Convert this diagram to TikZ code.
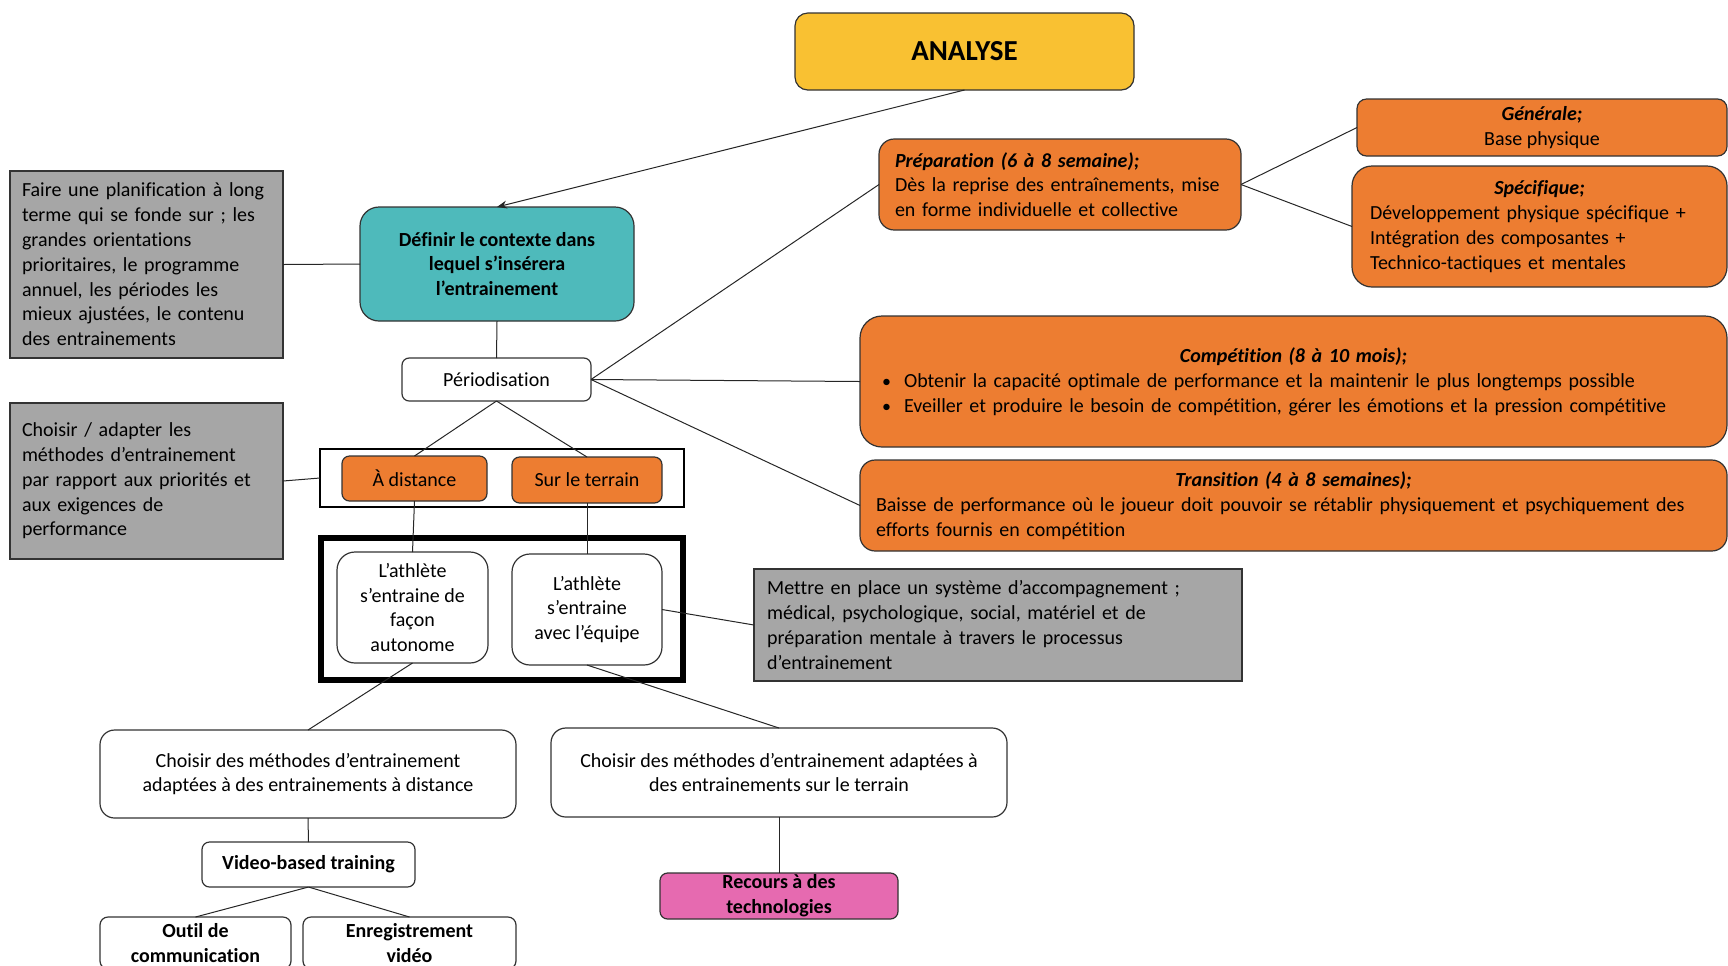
\documentclass[tikz,border=0pt]{standalone}
\usepackage{fontspec}
\setmainfont{Carlito}[Ligatures=CommonOff]
\usetikzlibrary{arrows.meta}

\definecolor{gold}{RGB}{249,193,50}
\definecolor{teal}{RGB}{78,186,187}
\definecolor{orng}{RGB}{237,125,49}
\definecolor{grey}{RGB}{166,166,166}
\definecolor{pink}{RGB}{230,106,176}

\begin{document}
\begin{tikzpicture}[x=0.5pt,y=-0.5pt,
  font=\fontsize{10}{12.4}\selectfont,
  box/.style={draw=black!80, line width=0.6pt, inner ysep=0pt, outer sep=0pt},
  whitebox/.style={box, fill=white, align=center, inner xsep=2pt},
  orangebox/.style={box, fill=orng},
  greybox/.style={box, fill=grey, align=left, inner xsep=6pt},
  frame/.style={draw=black, fill=none, inner sep=0pt, outer sep=0pt},
  conn/.style={draw=black!85, line width=0.5pt},
  boldtext/.style={font=\fontsize{10}{12.4}\selectfont\bfseries}
]
\useasboundingbox (0,0) rectangle (1728,965);

% ---- top of the map ----
\node[box, fill=gold, rounded corners=6.4pt, minimum width=169.5pt, minimum height=38.5pt,
      font=\fontsize{14.5}{17}\selectfont\bfseries] (analyse) at (964.5,51.5) {ANALYSE};

\node[box, fill=teal, rounded corners=9.5pt, minimum width=137pt, minimum height=57pt,
      align=center, boldtext] (definir) at (497,264)
  {Définir le contexte dans\\lequel s’insérera\\l’entrainement};

\node[greybox, minimum width=136.5pt, minimum height=93.5pt, text width=124.5pt] (faire) at (146.5,264.5)
  {Faire une planification à long\\terme qui se fonde sur ; les\\grandes orientations\\prioritaires, le programme\\annuel, les périodes les\\mieux ajustées, le contenu\\des entrainements};

\node[whitebox, rounded corners=3.6pt, minimum width=94.5pt, minimum height=21.5pt] (period) at (496.5,379.5) {Périodisation};

\node[greybox, minimum width=136.5pt, minimum height=78pt, text width=124.5pt] (choisir) at (146.5,481)
  {Choisir / adapter les\\méthodes d’entrainement\\par rapport aux priorités et\\aux exigences de\\performance};

% ---- training modes ----
\node[frame, line width=1.2pt, minimum width=182pt, minimum height=29pt] (modes) at (502,478) {};
\node[orangebox, rounded corners=3.75pt, minimum width=72.5pt, minimum height=22.5pt] (dist) at (414.5,478.5) {À distance};
\node[orangebox, rounded corners=3.8pt, minimum width=75pt, minimum height=23pt] (terr) at (587,480) {Sur le terrain};

\node[frame, line width=3pt, minimum width=181pt, minimum height=71pt] (athletes) at (502,609) {};
\node[whitebox, rounded corners=9pt, minimum width=75.5pt, minimum height=55.5pt] (auto) at (412.5,607.5)
  {L’athlète\\s’entraine de\\façon\\autonome};
\node[whitebox, rounded corners=9pt, minimum width=75pt, minimum height=55.5pt] (equipe) at (587,609.5)
  {L’athlète\\s’entraine\\avec l’équipe};

\node[greybox, inner xsep=6.6pt, minimum width=244pt, minimum height=56pt, text width=230.8pt] (mettre) at (998,625)
  {Mettre en place un système d’accompagnement ;\\médical, psychologique, social, matériel et de\\préparation mentale à travers le processus\\d’entrainement};

% ---- periods ----
\node[orangebox, rounded corners=7.6pt, align=left, inner xsep=8pt, minimum width=181pt, minimum height=45.5pt, text width=165pt] (prep) at (1060,184.5)
  {{\bfseries\itshape Préparation (6 à 8 semaine);}\\Dès la reprise des entraînements, mise\\en forme individuelle et collective};

\node[orangebox, rounded corners=4.75pt, align=center, minimum width=185pt, minimum height=28.5pt] (gen) at (1542,127.5)
  {{\bfseries\itshape Générale;}\\Base physique};

\node[orangebox, rounded corners=10pt, align=left, inner xsep=9pt, minimum width=187.5pt, minimum height=60.5pt, text width=169.5pt] (spec) at (1539.5,226.5)
  {{\centering\bfseries\itshape Spécifique;\par}Développement physique spécifique +\\Intégration des composantes +\\Technico-tactiques et mentales};

\node[orangebox, rounded corners=11pt, align=left, inner xsep=11pt, minimum width=433.5pt, minimum height=65.5pt, text width=411.5pt] (compet) at (1293.5,381.5)
  {{\centering\bfseries\itshape Compétition (8 à 10 mois);\par}%
   \makebox[11pt][l]{\small\textbullet}Obtenir la capacité optimale de performance et la maintenir le plus longtemps possible\\
   \makebox[11pt][l]{\small\textbullet}Eveiller et produire le besoin de compétition, gérer les émotions et la pression compétitive};

\node[orangebox, rounded corners=7.6pt, align=left, inner xsep=8pt, minimum width=433.5pt, minimum height=45.5pt, text width=417.5pt] (trans) at (1293.5,505.5)
  {{\centering\bfseries\itshape Transition (4 à 8 semaines);\par}Baisse de performance où le joueur doit pouvoir se rétablir physiquement et psychiquement des\\efforts fournis en compétition};

% ---- methods ----
\node[whitebox, rounded corners=7.3pt, minimum width=208pt, minimum height=44pt] (cdist) at (308,774)
  {Choisir des méthodes d’entrainement\\adaptées à des entrainements à distance};
\node[whitebox, rounded corners=7.4pt, minimum width=228pt, minimum height=44.5pt] (cterr) at (779,772.5)
  {Choisir des méthodes d’entrainement adaptées à\\des entrainements sur le terrain};

\node[whitebox, rounded corners=3.75pt, minimum width=106.5pt, minimum height=22.5pt,
      boldtext] (video) at (308.5,864.5) {Video-based training};
\node[box, fill=pink, align=center, rounded corners=3.8pt, minimum width=119pt, minimum height=23pt,
      boldtext] (recours) at (779,896) {Recours à des\\technologies};

\node[whitebox, rounded corners=4pt, minimum width=95.5pt, minimum height=26pt,
      boldtext] (outil) at (195.5,943) {Outil de\\communication};
\node[whitebox, rounded corners=4pt, minimum width=106.5pt, minimum height=26pt,
      boldtext] (enreg) at (409.5,943) {Enregistrement\\vidéo};

% ---- connectors ----
\draw[conn, -{Stealth[length=5pt,width=4pt]}] (analyse.south) -- (definir.north);
\draw[conn] (faire.east) -- (definir.west);
\draw[conn] (definir.south) -- (period.north);
\draw[conn] (period.east) -- (prep.west);
\draw[conn] (period.east) -- (compet.west);
\draw[conn] (period.east) -- (trans.west);
\draw[conn] (prep.east) -- (gen.west);
\draw[conn] (prep.east) -- (spec.west);
\draw[conn] (period.south) -- (dist.north);
\draw[conn] (period.south) -- (terr.north);
\draw[conn] (choisir.east) -- (modes.west);
\draw[conn] (dist.south) -- (auto.north);
\draw[conn] (terr.south) -- (equipe.north);
\draw[conn] (equipe.east) -- (mettre.west);
\draw[conn] (auto.south) -- (cdist.north);
\draw[conn] (equipe.south) -- (cterr.north);
\draw[conn] (cdist.south) -- (video.north);
\draw[conn] (video.south) -- (outil.north);
\draw[conn] (video.south) -- (enreg.north);
\draw[conn] (cterr.south) -- (recours.north);
\end{tikzpicture}
\end{document}
